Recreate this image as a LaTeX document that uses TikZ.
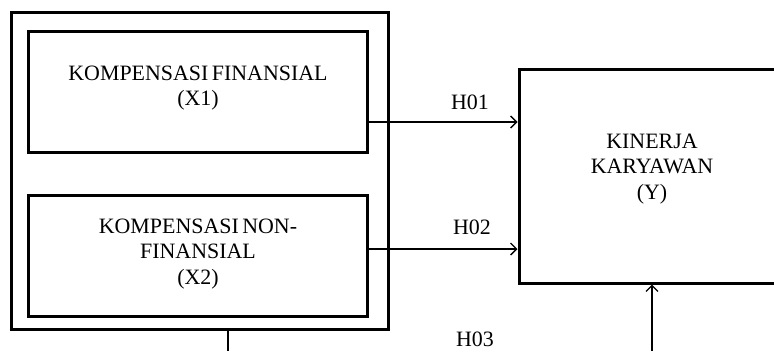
\documentclass[tikz,border=0pt]{standalone}
\usepackage{fontspec}
\setmainfont{Liberation Serif}
\usetikzlibrary{arrows.meta}
\begin{document}
\begin{tikzpicture}[x=1bp,y=-1bp,
 box/.style={draw, line width=3bp, inner sep=0pt},
 txt/.style={align=center, font=\fontsize{22}{25.5}\selectfont, inner sep=0pt},
 conn/.style={line width=1.3bp, -{Straight Barb[length=6bp,width=12bp,line width=1.3bp]}},
 plain/.style={line width=1.3bp}]
\useasboundingbox (0,0) rectangle (774,351);
\clip (0,0) rectangle (774,351);
\node[box, minimum width=376bp, minimum height=317bp] (outer) at (200,171) {};
\node[box, minimum width=338bp, minimum height=121bp] (x1) at (198,91.5) {};
\node[box, minimum width=338bp, minimum height=121bp] (x2) at (198,255.5) {};
\node[box, minimum width=266bp, minimum height=214bp] (y) at (652,176) {};
\node[txt] (tx1) at (198,88) {KOMPENSASI\kern-2bp\ FINANSIAL\\(X1)};
\node[txt] (tx2) at (198,254) {KOMPENSASI\kern-2bp\ NON-\\FINANSIAL\\(X2)};
\node[txt] (ty) at (652,169) {KINERJA\\KARYAWAN\\(Y)};
\coordinate (h1) at (0,122);
\coordinate (h2) at (0,249);
\coordinate (b1) at (228,351);
\coordinate (b2) at (652,351);
\draw[conn] (x1.east |- h1) -- (y.west |- h1);
\draw[conn] (x2.east |- h2) -- (y.west |- h2);
\draw[plain] (outer.south -| b1) -- (b1);
\draw[conn] (b2) -- (y.south);
\node[txt] (l1) at (470,102) {H01};
\node[txt] (l2) at (472,227) {H02};
\node[txt] (l3) at (475,339) {H03};
\end{tikzpicture}
\end{document}
